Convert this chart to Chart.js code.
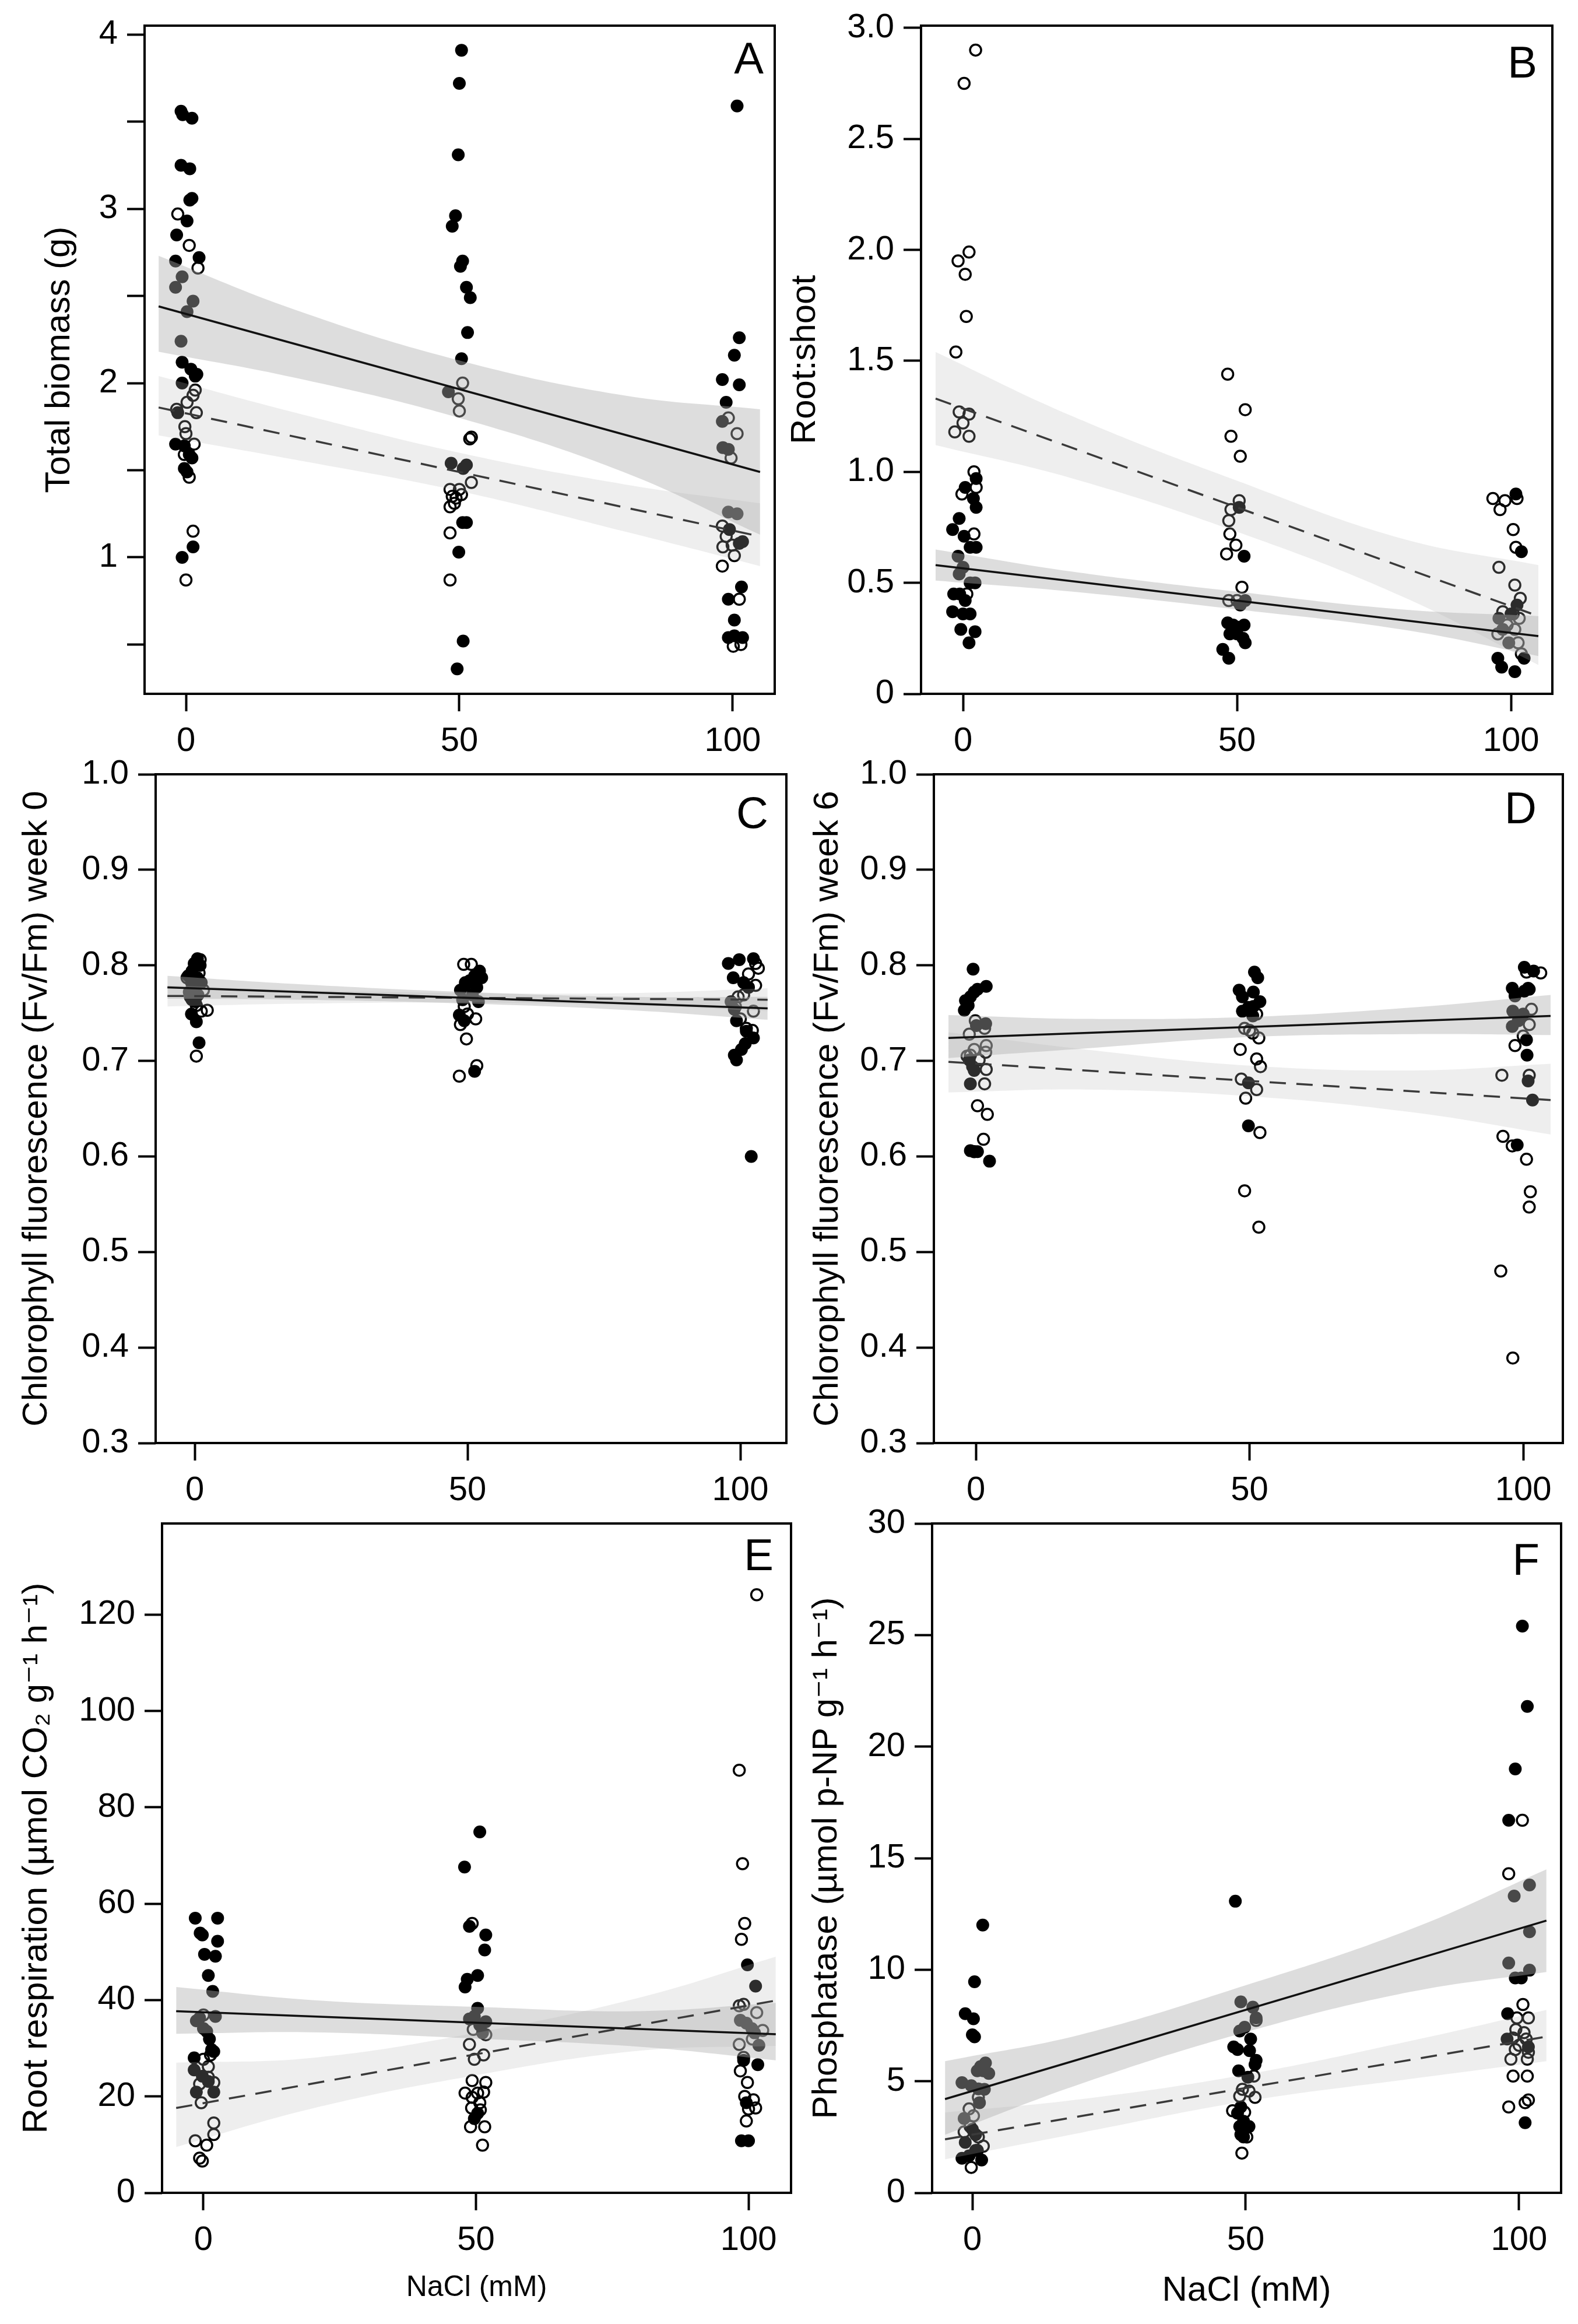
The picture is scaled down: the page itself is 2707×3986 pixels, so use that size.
<!DOCTYPE html>
<html>
<head>
<meta charset="utf-8">
<script src="https://cdn.jsdelivr.net/npm/chart.js@4.4.1/dist/chart.umd.min.js"></script>
<style>
  body { margin: 0; background: #fff; width: 2707px; height: 3986px; position: relative; overflow: hidden; }
  canvas { position: absolute; }
</style>
</head>
<body>
<canvas id="chartA"></canvas>
<canvas id="chartB"></canvas>
<canvas id="chartC"></canvas>
<canvas id="chartD"></canvas>
<canvas id="chartE"></canvas>
<canvas id="chartF"></canvas>
<script>
// ---- shared x data ----
const xTicks = [0, 50, 100];
const xLabels = ['0', '50', '100'];
const lineX = [-5, 105];
const bandX = [-5, 20, 50, 80, 105];

// ---- A : total biomass ----
const aFilledX = [-0.9, -0.6, 1.1, -0.9, 0.7, 1.1, 0.7, 0.2, -1.7, -1.9, 2.4, -0.7, -1.9, 1.3, 0.2, -0.9, -0.7, 0.9, 2.0, 1.7, -0.7, -1.5, -1.9, -0.3, 0.6, 1.1, -0.3, 0.2, -0.7, 1.3,
  50.4, 50.0, 49.8, 49.3, 48.7, 50.6, 50.2, 51.3, 52.0, 51.5, 50.4, 48.0, 48.5, 51.3, 50.7, 50.6, 51.3, 49.9, 50.7, 49.6,
  100.8, 101.2, 100.3, 98.1, 101.2, 98.8, 98.1, 98.2, 99.2, 99.2, 100.8, 99.4, 101.8, 101.2, 99.2, 101.6, 100.3, 99.2, 101.8, 100.3];
const aFilledY = [3.56, 3.54, 3.52, 3.25, 3.23, 3.06, 3.05, 2.93, 2.85, 2.70, 2.72, 2.61, 2.55, 2.47, 2.41, 2.24, 2.12, 2.08, 2.05, 2.04, 2.00, 1.83, 1.65, 1.64, 1.59, 1.57, 1.51, 1.49, 1.00, 1.06,
  3.91, 3.72, 3.31, 2.96, 2.90, 2.70, 2.67, 2.55, 2.49, 2.29, 2.14, 1.95, 1.54, 1.53, 1.51, 1.20, 1.20, 1.03, 0.52, 0.36,
  3.59, 2.26, 2.16, 2.02, 1.99, 1.89, 1.78, 1.63, 1.62, 1.26, 1.25, 1.16, 1.09, 1.08, 0.76, 0.83, 0.64, 0.54, 0.54, 0.55];
const aOpenX = [-1.5, 0.6, 2.2, 1.7, 1.3, 0.2, -1.7, 1.9, -0.2, 0.0, 1.5, -0.3, 0.6, 1.3, 0.0,
  50.6, 49.8, 50.0, 51.9, 52.2, 52.2, 48.3, 50.0, 48.7, 49.4, 50.4, 48.3, 49.1, 48.3, 48.3,
  99.2, 100.8, 99.7, 98.1, 98.8, 98.2, 99.9, 100.3, 98.1, 101.2, 100.1, 101.5];
const aOpenY = [2.97, 2.79, 2.66, 1.96, 1.93, 1.89, 1.85, 1.83, 1.75, 1.71, 1.65, 1.59, 1.46, 1.15, 0.87,
  2.00, 1.91, 1.84, 1.68, 1.69, 1.43, 1.39, 1.39, 1.35, 1.34, 1.36, 1.29, 1.31, 1.14, 0.87,
  1.80, 1.71, 1.57, 1.18, 1.12, 1.06, 1.07, 1.01, 0.95, 0.76, 0.49, 0.50];
const aSolidLine = [2.44, 1.49];
const aDashLine = [1.86, 1.12];
const aSolidHi = [2.73, 2.42, 2.13, 1.93, 1.85];
const aSolidLo = [2.18, 2.03, 1.80, 1.49, 1.13];
const aDashHi = [2.04, 1.83, 1.60, 1.42, 1.31];
const aDashLo = [1.70, 1.56, 1.38, 1.15, 0.95];
const aYTicks = [0.5, 1, 1.5, 2, 2.5, 3, 3.5, 4];
const aYLabels = ['', '1', '', '2', '', '3', '', '4'];

// ---- B : root:shoot ----
const bFilledX = [2.4, 0.4, 1.9, 2.4, -0.7, -1.9, 0.2, 1.3, 2.4, -0.9, 0.0, -0.7, -1.7, 1.3, 2.2, -0.6, 0.4, -1.9, 0.0, 1.3, -0.4, 2.2, 1.1,
  51.3, 50.4, 51.5, 48.3, 49.3, 50.2, 51.3, 48.7, 50.0, 51.1, 51.5, 47.4, 48.5, 50.6,
  100.9, 101.9, 100.0, 97.8, 98.5, 99.6, 97.6, 98.3, 100.7, 102.4, 101.1];
const bFilledY = [0.97, 0.93, 0.88, 0.84, 0.79, 0.74, 0.71, 0.66, 0.66, 0.62, 0.57, 0.54, 0.45, 0.50, 0.50, 0.45, 0.42, 0.37, 0.36, 0.36, 0.29, 0.28, 0.23,
  0.62, 0.84, 0.42, 0.32, 0.31, 0.30, 0.31, 0.27, 0.27, 0.25, 0.23, 0.20, 0.16, 0.40,
  0.90, 0.64, 0.36, 0.34, 0.29, 0.23, 0.16, 0.12, 0.10, 0.16, 0.40];
const bOpenX = [2.3, 0.2, 1.1, -0.9, 0.4, 0.6, -1.3, -0.7, 1.1, -1.5, 0.0, 1.1, 2.0, -0.2, 2.4, 2.0, 0.7,
  48.3, 51.5, 48.9, 50.6, 50.4, 48.9, 48.5, 48.7, 49.8, 48.1, 48.5, 50.9, 50.0,
  96.7, 98.9, 98.0, 101.1, 100.4, 100.9, 97.8, 100.7, 101.7, 98.5, 100.4, 101.5, 99.3, 100.7, 97.6, 101.3, 101.9];
const bOpenY = [2.90, 2.75, 1.99, 1.95, 1.89, 1.70, 1.54, 1.27, 1.26, 1.18, 1.22, 1.16, 1.00, 0.90, 0.93, 0.72, 0.45,
  1.44, 1.28, 1.16, 1.07, 0.87, 0.83, 0.78, 0.72, 0.67, 0.63, 0.42, 0.48, 0.42,
  0.88, 0.87, 0.83, 0.88, 0.74, 0.66, 0.57, 0.49, 0.43, 0.37, 0.36, 0.34, 0.31, 0.29, 0.27, 0.23, 0.18];
const bSolidLine = [0.58, 0.26];
const bDashLine = [1.33, 0.35];
const bSolidHi = [0.65, 0.55, 0.46, 0.38, 0.35];
const bSolidLo = [0.51, 0.46, 0.38, 0.29, 0.17];
const bDashHi = [1.54, 1.25, 0.96, 0.70, 0.58];
const bDashLo = [1.12, 0.97, 0.73, 0.44, 0.13];
const bYTicks = [0, 0.5, 1, 1.5, 2, 2.5, 3];
const bYLabels = ['0', '0.5', '1.0', '1.5', '2.0', '2.5', '3.0'];

// ---- C : Fv/Fm week 0 ----
const cFilledX = [0.5, -0.1, 1.0, -0.5, -1.2, 0.5, -0.6, 0.1, -1.0, 0.6, -0.5, 0.1, -0.6, 0.3, 0.8, 1.2,
  52.2, 51.3, 50.4, 49.6, 51.7, 48.7, 50.9, 49.1, 52.0, 48.5, 49.4, 51.3, 49.6, 52.6,
  97.8, 99.8, 102.4, 98.7, 100.6, 101.5, 98.3, 98.9, 99.3, 101.1, 100.9, 100.2, 98.9, 99.3, 102.0, 102.4];
const cFilledY = [0.807, 0.802, 0.800, 0.794, 0.789, 0.787, 0.782, 0.777, 0.772, 0.769, 0.764, 0.762, 0.749, 0.741, 0.719, 0.782,
  0.794, 0.789, 0.784, 0.779, 0.777, 0.774, 0.769, 0.764, 0.762, 0.748, 0.742, 0.689, 0.782, 0.787,
  0.802, 0.806, 0.807, 0.787, 0.782, 0.777, 0.762, 0.754, 0.742, 0.731, 0.718, 0.712, 0.706, 0.701, 0.600, 0.724];
const cOpenX = [0.3, 2.3, 1.2, 1.0, 0.8, -1.4, 1.6, -0.8, 0.3,
  49.3, 50.7, 51.5, 48.7, 49.8, 50.0, 51.7, 48.5, 50.4, 49.4,
  102.8, 101.5, 103.3, 102.8, 99.6, 102.4, 100.0, 101.1, 102.2, 99.1, 100.6];
const cOpenY = [0.705, 0.753, 0.752, 0.806, 0.792, 0.787, 0.774, 0.767, 0.758,
  0.801, 0.801, 0.744, 0.738, 0.723, 0.749, 0.695, 0.684, 0.772, 0.757,
  0.802, 0.791, 0.797, 0.779, 0.767, 0.752, 0.744, 0.734, 0.732, 0.757, 0.769];
const cSolidLine = [0.777, 0.755];
const cDashLine = [0.768, 0.764];
const cSolidHi = [0.789, 0.780, 0.772, 0.767, 0.767];
const cSolidLo = [0.765, 0.764, 0.760, 0.753, 0.743];
const cDashHi = [0.779, 0.774, 0.771, 0.771, 0.776];
const cDashLo = [0.757, 0.760, 0.761, 0.758, 0.752];
const fvTicks = [0.3, 0.4, 0.5, 0.6, 0.7, 0.8, 0.9, 1.0];
const fvLabels = ['0.3', '0.4', '0.5', '0.6', '0.7', '0.8', '0.9', '1.0'];

// ---- D : Fv/Fm week 6 ----
const dFilledX = [-0.5, -1.9, -0.3, 0.3, 1.9, -1.0, -2.1, -1.4, 0.1, 1.8, -1.2, -0.6, -1.0, -1.0, 0.3, 2.5, -0.3,
  50.9, 51.5, 48.1, 50.7, 48.7, 51.9, 49.8, 48.7, 50.6, 49.8, 49.8, 50.7,
  98.0, 98.5, 100.2, 101.1, 100.2, 101.9, 100.9, 98.1, 100.0, 99.1, 98.0, 100.6, 100.7, 100.9, 101.7, 98.9];
const dFilledY = [0.796, 0.763, 0.772, 0.775, 0.778, 0.767, 0.753, 0.758, 0.737, 0.739, 0.701, 0.694, 0.676, 0.606, 0.605, 0.595, 0.690,
  0.793, 0.787, 0.774, 0.772, 0.767, 0.762, 0.756, 0.752, 0.747, 0.677, 0.632, 0.757,
  0.776, 0.768, 0.773, 0.775, 0.798, 0.794, 0.776, 0.752, 0.749, 0.742, 0.736, 0.722, 0.706, 0.679, 0.659, 0.612];
const dOpenX = [-0.1, -1.2, 1.6, 1.9, -0.3, -1.0, 1.8, 0.6, 1.9, 1.6, 0.3, 2.1, 1.4, -0.3, -1.6,
  48.3, 49.1, 50.0, 51.7, 50.6, 51.3, 52.0, 48.5, 49.3, 51.3, 51.9, 49.1, 51.7, 51.3,
  100.6, 103.2, 101.5, 101.1, 100.0, 98.5, 96.1, 101.1, 96.3, 98.0, 100.6, 101.3, 101.1, 95.9, 98.1];
const dOpenY = [0.742, 0.728, 0.734, 0.716, 0.712, 0.706, 0.709, 0.701, 0.691, 0.676, 0.653, 0.644, 0.618, 0.605, 0.705,
  0.712, 0.734, 0.732, 0.724, 0.729, 0.702, 0.694, 0.681, 0.661, 0.670, 0.625, 0.564, 0.526, 0.749,
  0.793, 0.792, 0.754, 0.738, 0.726, 0.716, 0.685, 0.685, 0.621, 0.611, 0.597, 0.563, 0.547, 0.480, 0.389];
const dSolidLine = [0.724, 0.747];
const dDashLine = [0.699, 0.659];
const dSolidHi = [0.748, 0.744, 0.746, 0.756, 0.769];
const dSolidLo = [0.703, 0.713, 0.725, 0.728, 0.727];
const dDashHi = [0.730, 0.712, 0.695, 0.690, 0.697];
const dDashLo = [0.667, 0.670, 0.663, 0.646, 0.623];

// ---- E : root respiration ----
const eFilledX = [-1.5, 2.6, -0.6, -0.2, 2.6, 0.2, 2.2, 0.9, 1.7, -0.7, -1.3, 2.2, 0.0, 0.6, 1.1, 1.5, 1.9, -1.7, -1.7, -0.2, 0.9, -1.3, 1.9,
  50.7, 47.9, 48.8, 51.8, 51.6, 50.3, 48.4, 48.0, 50.3, 49.7, 48.8, 51.8, 50.7, 51.2, 50.3, 49.7,
  99.8, 101.3, 98.5, 99.6, 101.1, 101.9, 101.7, 99.1, 99.6, 98.7, 100.0, 100.6];
const eFilledY = [57.0, 57.0, 53.9, 53.5, 52.2, 49.5, 49.1, 45.1, 41.8, 36.3, 35.7, 36.6, 34.1, 33.5, 31.9, 29.7, 29.3, 28.0, 25.5, 24.2, 23.1, 20.9, 20.9,
  74.9, 67.6, 55.3, 53.5, 50.4, 45.1, 44.3, 42.7, 38.3, 36.6, 36.1, 35.5, 34.8, 33.2, 16.5, 15.4,
  47.3, 42.9, 35.8, 35.2, 33.2, 30.6, 26.6, 27.5, 18.7, 10.8, 10.8, 34.1];
const eOpenX = [0.9, 0.0, 0.9, -0.7, 1.9, -0.4, 1.9, 1.9, -1.5, 0.6, -0.7, -0.2, 0.0, 1.3,
  49.3, 49.5, 51.8, 48.8, 51.4, 49.7, 49.3, 51.8, 48.0, 50.3, 51.4, 49.3, 50.7, 49.2, 50.8, 49.0, 51.6, 51.2,
  101.5, 98.3, 98.9, 99.3, 98.7, 99.1, 98.3, 101.5, 102.6, 100.7, 98.3, 99.1, 98.5, 99.8, 99.3, 100.9, 100.0, 101.3, 99.6];
const eOpenY = [26.2, 27.7, 24.0, 22.6, 22.9, 18.7, 14.5, 12.1, 10.8, 9.9, 7.2, 6.6, 36.9, 28.6,
  55.9, 33.9, 32.8, 30.8, 28.6, 27.7, 23.3, 22.9, 20.7, 20.7, 20.9, 19.8, 18.7, 17.6, 17.2, 13.7, 13.7, 9.9,
  124.1, 87.7, 68.3, 55.9, 52.6, 39.1, 38.8, 37.4, 33.7, 31.9, 30.8, 28.1, 25.3, 22.9, 20.0, 19.3, 17.4, 17.6, 14.9];
const eSolidLine = [37.7, 32.9];
const eDashLine = [17.6, 39.9];
const eSolidHi = [42.7, 40.0, 38.6, 37.7, 39.4];
const eSolidLo = [33.0, 33.3, 32.0, 30.3, 27.5];
const eDashHi = [27.0, 28.0, 33.2, 40.5, 49.0];
const eDashLo = [9.5, 17.5, 24.4, 29.5, 30.5];
const eYTicks = [0, 20, 40, 60, 80, 100, 120];
const eYLabels = ['0', '20', '40', '60', '80', '100', '120'];

// ---- F : phosphatase ----
const fFilledX = [1.9, 0.4, -1.3, 0.2, 0.0, 0.4, 2.4, 1.5, 0.9, 2.0, 3.0, -1.9, -0.2, 1.1, 2.2, 1.3, -1.5, 0.0, 0.6, -1.3, -1.9, 1.7, -0.6, 0.6,
  48.1, 49.1, 51.3, 51.9, 49.8, 48.9, 50.9, 47.8, 48.5, 50.7, 51.9, 51.7, 48.7, 50.4, 49.1, 48.5, 49.6, 48.9, 50.0, 50.6, 49.1, 49.6,
  100.6, 101.5, 99.3, 98.1, 99.1, 101.9, 101.9, 98.1, 101.9, 99.3, 100.4, 97.9, 97.8, 101.1, 101.7];
const fFilledY = [12.0, 9.46, 8.03, 7.80, 7.08, 6.99, 5.82, 5.66, 5.47, 5.47, 5.35, 4.94, 4.80, 4.66, 4.64, 4.04, 3.33, 2.85, 2.61, 2.26, 1.55, 1.47, 1.66, 1.90,
  13.07, 8.56, 8.32, 7.84, 7.42, 7.25, 6.89, 6.54, 6.42, 6.37, 5.94, 5.75, 5.47, 5.18, 3.85, 3.57, 3.21, 2.97, 2.90, 2.97, 2.61, 2.50,
  25.4, 21.8, 19.0, 16.7, 13.3, 13.8, 11.7, 10.3, 9.98, 9.63, 9.63, 8.03, 6.89, 3.14, 6.54];
const fOpenX = [-0.2, 0.9, 2.0, 1.1, -0.4, 0.2, -0.6, 1.1, -1.5,
  51.9, 47.6, 49.8, 49.3, 50.2, 49.3, 51.5, 50.6, 51.7, 48.9, 49.4,
  100.6, 98.1, 100.7, 99.6, 101.7, 99.4, 100.9, 98.9, 101.3, 100.0, 99.3, 101.7, 98.5, 101.5, 98.9, 101.5, 101.7, 101.1, 98.1];
const fOpenY = [1.14, 1.90, 2.09, 2.50, 2.97, 3.45, 3.76, 4.28, 2.73,
  7.73, 3.68, 3.61, 2.85, 2.50, 1.78, 5.23, 4.56, 4.28, 4.33, 4.64,
  16.7, 14.3, 8.44, 7.84, 7.84, 7.32, 7.18, 6.94, 6.89, 6.61, 6.42, 6.30, 5.99, 5.99, 5.23, 5.23, 4.16, 4.04, 3.85];
const fSolidLine = [4.2, 12.2];
const fDashLine = [2.4, 7.0];
const fSolidHi = [5.9, 7.1, 9.3, 11.8, 14.5];
const fSolidLo = [2.6, 4.9, 7.2, 9.0, 9.9];
const fDashHi = [3.6, 4.2, 5.3, 6.8, 8.2];
const fDashLo = [1.5, 2.7, 4.1, 5.1, 5.9];
const fYTicks = [0, 5, 10, 15, 20, 25, 30];
const fYLabels = ['0', '5', '10', '15', '20', '25', '30'];

// ---- look ----
const FONT = "'Liberation Sans', Arial, Helvetica, 'DejaVu Sans', sans-serif";
Chart.defaults.font.family = FONT;
Chart.defaults.color = '#000';

const TITLE_SIZE = 60;
const TICK_SIZE = 58;
const PAD_TOP = 60, PAD_RIGHT = 40, PAD_BOTTOM = 10;

function pts(xs, ys) {
  return xs.map((x, i) => ({ x: x, y: ys[i] }));
}

// frame round the plot + panel letter
const framePlugin = {
  id: 'frame',
  afterDatasetsDraw(chart, args, opts) {
    const { ctx, chartArea: a } = chart;
    ctx.save();
    ctx.lineWidth = 4;
    ctx.strokeStyle = '#000';
    ctx.strokeRect(a.left, a.top, a.right - a.left, a.bottom - a.top);
    ctx.font = '76px ' + FONT;
    ctx.fillStyle = '#000';
    ctx.textAlign = 'right';
    ctx.textBaseline = 'alphabetic';
    ctx.fillText(opts.letter, a.right - opts.gap, a.top + opts.drop);
    ctx.restore();
  }
};

const panels = [
  { id: 'chartA', letter: 'A', gap: 19, drop: 82, box: { l: 248, t: 44, r: 1329, b: 1190 }, titleX: 102,
    xMin: -7.57, xMax: 107.68, yMin: 0.217, yMax: 4.051, yTicks: aYTicks, yLabels: aYLabels,
    yTitle: 'Total biomass (g)',
    filled: [aFilledX, aFilledY], open: [aOpenX, aOpenY], solid: aSolidLine, dash: aDashLine,
    solidHi: aSolidHi, solidLo: aSolidLo, dashHi: aDashHi, dashLo: aDashLo },
  { id: 'chartB', letter: 'B', gap: 26, drop: 89, box: { l: 1580, t: 44, r: 2663, b: 1190 }, titleX: 1381,
    xMin: -7.66, xMax: 107.55, yMin: 0, yMax: 3.01, yTicks: bYTicks, yLabels: bYLabels,
    yTitle: 'Root:shoot',
    filled: [bFilledX, bFilledY], open: [bOpenX, bOpenY], solid: bSolidLine, dash: bDashLine,
    solidHi: bSolidHi, solidLo: bSolidLo, dashHi: bDashHi, dashLo: bDashLo },
  { id: 'chartC', letter: 'C', gap: 31, drop: 92, box: { l: 267, t: 1328, r: 1349, b: 2475 }, titleX: 63,
    xMin: -7.16, xMax: 108.44, yMin: 0.3, yMax: 1.0, yTicks: fvTicks, yLabels: fvLabels,
    yTitle: 'Chlorophyll fluorescence (Fv/Fm) week 0',
    filled: [cFilledX, cFilledY], open: [cOpenX, cOpenY], solid: cSolidLine, dash: cDashLine,
    solidHi: cSolidHi, solidLo: cSolidLo, dashHi: cDashHi, dashLo: cDashLo },
  { id: 'chartD', letter: 'D', gap: 45, drop: 84, box: { l: 1602, t: 1328, r: 2681, b: 2475 }, titleX: 1420,
    xMin: -7.67, xMax: 107.24, yMin: 0.3, yMax: 1.0, yTicks: fvTicks, yLabels: fvLabels,
    yTitle: 'Chlorophyll fluorescence (Fv/Fm) week 6',
    filled: [dFilledX, dFilledY], open: [dOpenX, dOpenY], solid: dSolidLine, dash: dDashLine,
    solidHi: dSolidHi, solidLo: dSolidLo, dashHi: dDashHi, dashLo: dDashLo },
  { id: 'chartE', letter: 'E', gap: 30, drop: 80, box: { l: 278, t: 2613, r: 1357, b: 3761 }, titleX: 63,
    xMin: -7.59, xMax: 107.8, yMin: 0, yMax: 138.9, yTicks: eYTicks, yLabels: eYLabels,
    yTitle: 'Root respiration (µmol CO₂ g⁻¹ h⁻¹)', xTitle: 'NaCl (mM)', xTitleSize: 50, xAxisH: 193,
    filled: [eFilledX, eFilledY], open: [eOpenX, eOpenY], solid: eSolidLine, dash: eDashLine,
    solidHi: eSolidHi, solidLo: eSolidLo, dashHi: eDashHi, dashLo: eDashLo },
  { id: 'chartF', letter: 'F', gap: 37, drop: 88, box: { l: 1599, t: 2613, r: 2678, b: 3761 }, titleX: 1418,
    xMin: -7.36, xMax: 107.68, yMin: 0, yMax: 30, yTicks: fYTicks, yLabels: fYLabels,
    yTitle: 'Phosphatase (µmol p-NP g⁻¹ h⁻¹)', xTitle: 'NaCl (mM)', xTitleSize: 60, xAxisH: 204,
    filled: [fFilledX, fFilledY], open: [fOpenX, fOpenY], solid: fSolidLine, dash: fDashLine,
    solidHi: fSolidHi, solidLo: fSolidLo, dashHi: fDashHi, dashLo: fDashLo }
];

function makePanel(p) {
  const canvas = document.getElementById(p.id);
  const xAxisH = p.xTitle ? p.xAxisH : 120;
  const left = p.titleX - TITLE_SIZE * 1.2 / 2;
  const plotH = p.box.b - p.box.t;
  canvas.width = p.box.r + PAD_RIGHT - left;
  canvas.height = PAD_TOP + plotH + xAxisH + PAD_BOTTOM;
  canvas.style.left = left + 'px';
  canvas.style.top = (p.box.t - PAD_TOP) + 'px';

  const solidBand = 'rgba(175,175,175,0.42)';
  const dashBand = 'rgba(185,185,185,0.24)';

  new Chart(canvas, {
    type: 'scatter',
    data: {
      datasets: [
        { type: 'line', data: pts(lineX, p.solid), borderColor: '#111', borderWidth: 3.5,
          pointRadius: 0, fill: false, tension: 0 },
        { type: 'line', data: pts(lineX, p.dash), borderColor: '#3a3a3a', borderWidth: 3.5,
          borderDash: [28, 18], pointRadius: 0, fill: false, tension: 0 },
        { type: 'line', data: pts(bandX, p.solidHi), borderWidth: 0, borderColor: 'rgba(0,0,0,0)',
          pointRadius: 0, fill: false, tension: 0.4 },
        { type: 'line', data: pts(bandX, p.solidLo), borderWidth: 0, borderColor: 'rgba(0,0,0,0)',
          pointRadius: 0, fill: '-1', backgroundColor: solidBand, tension: 0.4 },
        { type: 'line', data: pts(bandX, p.dashHi), borderWidth: 0, borderColor: 'rgba(0,0,0,0)',
          pointRadius: 0, fill: false, tension: 0.4 },
        { type: 'line', data: pts(bandX, p.dashLo), borderWidth: 0, borderColor: 'rgba(0,0,0,0)',
          pointRadius: 0, fill: '-1', backgroundColor: dashBand, tension: 0.4 },
        { data: pts(p.filled[0], p.filled[1]), pointRadius: 11, pointBackgroundColor: '#000',
          pointBorderColor: '#000', pointBorderWidth: 0 },
        { data: pts(p.open[0], p.open[1]), pointRadius: 9.5, pointBackgroundColor: 'rgba(0,0,0,0)',
          pointBorderColor: '#000', pointBorderWidth: 3.5 }
      ]
    },
    options: {
      responsive: false,
      animation: false,
      devicePixelRatio: 1,
      events: [],
      layout: { padding: { top: PAD_TOP, right: PAD_RIGHT, bottom: PAD_BOTTOM, left: 0 } },
      plugins: {
        legend: { display: false },
        tooltip: { enabled: false },
        frame: { letter: p.letter, gap: p.gap, drop: p.drop }
      },
      scales: {
        x: {
          type: 'linear',
          min: p.xMin,
          max: p.xMax,
          afterBuildTicks: s => { s.ticks = xTicks.map(v => ({ value: v })); },
          afterFit: s => { s.height = xAxisH; },
          ticks: { callback: (v, i) => xLabels[i], font: { size: TICK_SIZE }, padding: 17,
                   maxRotation: 0, autoSkip: false },
          grid: { display: true, drawOnChartArea: false, drawTicks: true, tickLength: 30,
                  tickWidth: 4, tickColor: '#000' },
          border: { display: false },
          title: { display: !!p.xTitle, text: p.xTitle || '', font: { size: p.xTitleSize || TITLE_SIZE },
                   padding: 0, color: '#000' }
        },
        y: {
          type: 'linear',
          min: p.yMin,
          max: p.yMax,
          afterBuildTicks: s => { s.ticks = p.yTicks.map(v => ({ value: v })); },
          afterFit: s => { s.width = p.box.l - left; },
          ticks: { callback: (v, i) => p.yLabels[i], font: { size: TICK_SIZE }, padding: 16, autoSkip: false },
          grid: { display: true, drawOnChartArea: false, drawTicks: true, tickLength: 30,
                  tickWidth: 4, tickColor: '#000' },
          border: { display: false },
          title: { display: true, text: p.yTitle, font: { size: TITLE_SIZE }, padding: 0, color: '#000' }
        }
      }
    },
    plugins: [framePlugin]
  });
}

panels.forEach(makePanel);
</script>
</body>
</html>
